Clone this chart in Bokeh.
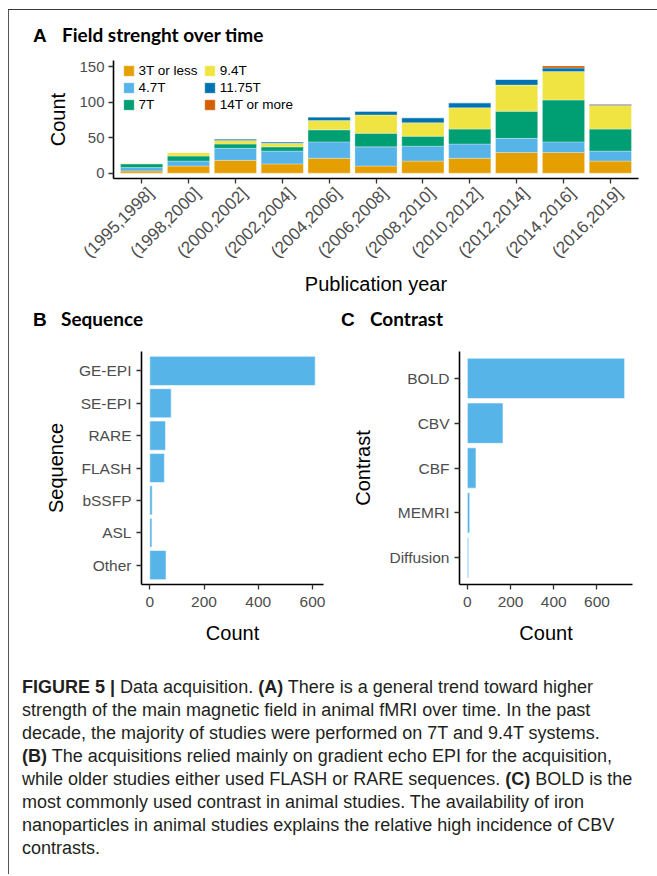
import math
from bokeh.plotting import figure
from bokeh.models import (ColumnDataSource, FixedTicker, Range1d, Legend, LegendItem, Div,
                          Spacer, LinearAxis)
from bokeh.layouts import column, row
from bokeh.embed import file_html
from bokeh.resources import INLINE

# ---------------- data ----------------
periods = ["(1995,1998]", "(1998,2000]", "(2000,2002]", "(2002,2004]", "(2004,2006]",
           "(2006,2008]", "(2008,2010]", "(2010,2012]", "(2012,2014]", "(2014,2016]",
           "(2016,2019]"]
field_labels = ["3T or less", "4.7T", "7T", "9.4T", "11.75T", "14T or more"]
field_colors = ["#E69F00", "#56B4E9", "#009E73", "#F0E442", "#0072B2", "#D55E00"]
t3_or_less = [3, 10, 18, 13, 21, 10, 17, 21, 29, 29, 17]
t4_7 = [5, 7, 17, 18, 23, 27, 21, 20, 20, 15, 14]
t7 = [5, 7, 6, 6, 17, 19, 14, 21, 38, 59, 31]
t9_4 = [1, 5, 5, 5, 13, 26, 19, 30, 37, 40, 33]
t11_75 = [0, 0, 2, 2, 5, 5, 7, 7, 8, 5, 1]
t14_or_more = [0, 0, 0, 0, 0, 0, 0, 0, 0, 3, 1]
count_ticks_a = [0, 50, 100, 150]

sequences = ["GE-EPI", "SE-EPI", "RARE", "FLASH", "bSSFP", "ASL", "Other"]
sequence_counts = [610, 79, 58, 54, 9, 8, 60]

contrasts = ["BOLD", "CBV", "CBF", "MEMRI", "Diffusion"]
contrast_counts = [728, 165, 40, 11, 6]
count_ticks_bc = [0, 200, 400, 600]

FONT = "Liberation Sans"
TICK_COLOR = "#4D4D4D"


def style(p, tick_size):
    p.xgrid.visible = False
    p.ygrid.visible = False
    p.outline_line_color = None
    p.background_fill_color = "white"
    p.border_fill_color = "white"
    for ax in p.axis:
        ax.axis_line_color = "black"
        ax.axis_line_width = 1.6
        ax.major_tick_line_color = "#333333"
        ax.major_tick_line_width = 1.3
        ax.major_tick_in = 0
        ax.major_tick_out = 5
        ax.minor_tick_line_color = None
        ax.major_label_text_font = FONT
        ax.major_label_text_font_size = tick_size
        ax.major_label_text_color = TICK_COLOR
        ax.axis_label_text_font = FONT
        ax.axis_label_text_font_size = "20px"
        ax.axis_label_text_font_style = "normal"
        ax.axis_label_text_color = "black"


# ---------------- panel A ----------------
xs = list(range(1, len(periods) + 1))
keys = ["t3", "t47", "t7", "t94", "t1175", "t14"]
srcA = ColumnDataSource(dict(x=xs, t3=t3_or_less, t47=t4_7, t7=t7, t94=t9_4,
                             t1175=t11_75, t14=t14_or_more))

x_lo, x_hi = 0.4, len(periods) + 0.6
pA = figure(frame_width=525, frame_height=118, min_border_left=104, min_border_right=19,
            min_border_top=12, min_border_bottom=122,
            x_range=Range1d(x_lo, x_hi), y_range=Range1d(-7.55, 158.6),
            output_backend="svg", toolbar_location=None, tools="")
rs = pA.vbar_stack(keys, x="x", width=0.9, source=srcA, fill_color=field_colors,
                   line_color="white", line_width=0.5, line_alpha=0.6)
style(pA, "15px")
# axis carrying the tick marks only
pA.xaxis.ticker = FixedTicker(ticks=xs)
pA.xaxis.major_label_overrides = {x: "" for x in xs}
pA.xaxis.major_label_text_font_size = "1px"
pA.xaxis.major_label_standoff = 0
pA.yaxis.ticker = FixedTicker(ticks=count_ticks_a)
pA.yaxis.major_label_standoff = 4
pA.yaxis.axis_label = "Count"
pA.yaxis.axis_label_standoff = 7

# second axis carrying the rotated period labels (ggplot-like hjust placement)
shift = 9 / 525 * (x_hi - x_lo)
pA.extra_x_ranges = {"labels": Range1d(x_lo - shift, x_hi - shift)}
lab_axis = LinearAxis(x_range_name="labels", ticker=FixedTicker(ticks=xs),
                      major_label_overrides={x: lab for x, lab in zip(xs, periods)},
                      major_label_orientation=math.pi / 4, major_label_standoff=7,
                      axis_line_color=None, major_tick_line_color=None,
                      minor_tick_line_color=None, major_tick_in=0, major_tick_out=0,
                      major_label_text_font=FONT, major_label_text_font_size="17px",
                      major_label_text_color=TICK_COLOR,
                      axis_label="Publication year", axis_label_standoff=2,
                      axis_label_text_font=FONT, axis_label_text_font_size="20px",
                      axis_label_text_font_style="normal", axis_label_text_color="black")
pA.add_layout(lab_axis, "below")


def make_legend(idx, x):
    leg = Legend(items=[LegendItem(label=field_labels[i], renderers=[rs[i]]) for i in idx],
                 location=(x, 66.5))
    leg.padding = 0
    leg.spacing = 2
    leg.margin = 0
    leg.glyph_width = 13
    leg.glyph_height = 13
    leg.label_height = 15
    leg.label_standoff = 4
    leg.label_text_font = FONT
    leg.label_text_font_size = "13.5px"
    leg.label_text_color = "black"
    leg.background_fill_alpha = 0
    leg.border_line_alpha = 0
    return leg


pA.add_layout(make_legend([0, 1, 2], 8.5), "center")
pA.add_layout(make_legend([3, 4, 5], 89.7), "center")

# ---------------- panel B ----------------
ysB = list(range(len(sequences), 0, -1))
srcB = ColumnDataSource(dict(y=ysB, count=sequence_counts))
pB = figure(frame_width=182, frame_height=233, min_border_left=132, min_border_right=7,
            min_border_top=19, min_border_bottom=66,
            x_range=Range1d(-30.5, 640.5), y_range=Range1d(0.4, len(sequences) + 0.6),
            output_backend="svg", toolbar_location=None, tools="")
pB.hbar(y="y", left=0, right="count", height=0.9, source=srcB, fill_color="#56B4E9",
        line_color="white", line_width=0.8, line_alpha=0.7)
style(pB, "15.5px")
pB.yaxis.ticker = FixedTicker(ticks=ysB)
pB.yaxis.major_label_overrides = {y: lab for y, lab in zip(ysB, sequences)}
pB.yaxis.major_label_standoff = 5
pB.yaxis.axis_label = "Sequence"
pB.yaxis.axis_label_standoff = 9
pB.xaxis.ticker = FixedTicker(ticks=count_ticks_bc)
pB.xaxis.major_label_standoff = 7
pB.xaxis.axis_label = "Count"
pB.xaxis.axis_label_standoff = 12

# ---------------- panel C ----------------
ysC = list(range(len(contrasts), 0, -1))
srcC = ColumnDataSource(dict(y=ysC, count=contrast_counts))
pC = figure(frame_width=173, frame_height=233, min_border_left=129, min_border_right=25,
            min_border_top=19, min_border_bottom=66,
            x_range=Range1d(-36.4, 764.4), y_range=Range1d(0.4, len(contrasts) + 0.6),
            output_backend="svg", toolbar_location=None, tools="")
pC.hbar(y="y", left=0, right="count", height=0.9, source=srcC, fill_color="#56B4E9",
        line_color="white", line_width=0.8, line_alpha=0.7)
style(pC, "15.5px")
pC.yaxis.ticker = FixedTicker(ticks=ysC)
pC.yaxis.major_label_overrides = {y: lab for y, lab in zip(ysC, contrasts)}
pC.yaxis.major_label_standoff = 5
pC.yaxis.axis_label = "Contrast"
pC.yaxis.axis_label_standoff = 12
pC.xaxis.ticker = FixedTicker(ticks=count_ticks_bc)
pC.xaxis.major_label_standoff = 7
pC.xaxis.axis_label = "Count"
pC.xaxis.axis_label_standoff = 12


# ---------------- titles & caption ----------------
def title_html(letter, text, w):
    return ('<div style="white-space:nowrap;line-height:20px;color:black">'
            f'<span style="display:inline-block;width:{w}px;font-family:\'Liberation Sans\';'
            f'font-weight:bold;font-size:19px">{letter}</span>'
            f'<span style="font-family:Lato;font-weight:bold;font-size:19px">{text}</span></div>')


divA = Div(text=title_html("A", "Field strenght over time", 29), width=624, height=20,
           margin=(15, 0, 3, 24))
divB = Div(text=title_html("B", "Sequence", 28), width=297, height=20, margin=(9, 0, 3, 24))
divC = Div(text=title_html("C", "Contrast", 29), width=316, height=20, margin=(9, 0, 3, 11))

caption_lines = [
    "<b>FIGURE 5 |</b> Data acquisition. <b>(A)</b> There is a general trend toward higher",
    "strength of the main magnetic field in animal fMRI over time. In the past",
    "decade, the majority of studies were performed on 7T and 9.4T systems.",
    "<b>(B)</b> The acquisitions relied mainly on gradient echo EPI for the acquisition,",
    "while older studies either used FLASH or RARE sequences. <b>(C)</b> BOLD is the",
    "most commonly used contrast in animal studies. The availability of iron",
    "nanoparticles in animal studies explains the relative high incidence of CBV",
    "contrasts.",
]
cap = Div(text=('<div style="font-family:\'Liberation Sans\',Arial,sans-serif;font-size:18px;'
                'line-height:23px;color:#231f20;white-space:nowrap">'
                + "<br>".join(caption_lines) + "</div>"),
          width=635, height=184, margin=(26, 0, 14, 13))

content = column(divA, pA, row(column(divB, pB), column(divC, pC)), cap)

topline = Div(text="", width=649, height=1, margin=0, styles={"background-color": "#3a3a3a"})
leftline = Div(text="", width=1, height=864, margin=0, styles={"background-color": "#555555"})
root = column(Spacer(width=657, height=9, margin=0),
              row(Spacer(width=8, height=1, margin=0), topline),
              row(Spacer(width=8, height=864, margin=0), leftline, content))

open("out.html", "w").write(file_html(root, INLINE))
